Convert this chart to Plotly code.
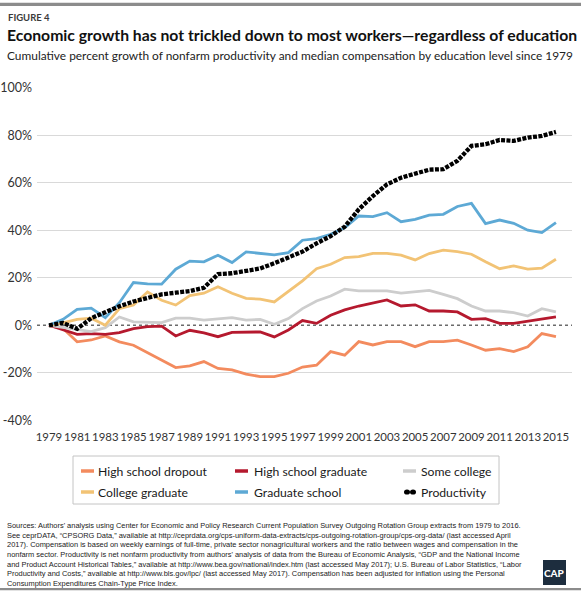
import base64
import plotly.graph_objects as go

# ---------------- data ----------------
years = [1979, 1980, 1981, 1982, 1983, 1984, 1985, 1986, 1987, 1988, 1989,
         1990, 1991, 1992, 1993, 1994, 1995, 1996, 1997, 1998, 1999, 2000,
         2001, 2002, 2003, 2004, 2005, 2006, 2007, 2008, 2009, 2010, 2011,
         2012, 2013, 2014, 2015]

hs_dropout = [0, -1.4, -7.0, -6.2, -4.5, -7.0, -8.4, -11.5, -14.6, -17.8, -17.1,
              -15.3, -18.2, -18.8, -20.6, -21.6, -21.6, -20.2, -17.6, -16.8, -11.1,
              -12.6, -6.9, -8.3, -6.9, -6.9, -9.0, -6.9, -6.9, -6.3, -8.3,
              -10.5, -9.8, -11.1, -9.1, -3.5, -4.8]
hs_graduate = [0, -2.0, -3.8, -3.5, -3.8, -3.1, -1.4, -0.6, -0.4, -4.5, -2.1,
               -3.2, -4.8, -3.0, -3.0, -2.8, -4.9, -2.0, 2.0, 0.8, 4.2,
               6.5, 8.1, 9.3, 10.7, 8.1, 8.6, 6.0, 6.0, 5.6, 2.5,
               2.8, 0.8, 0.8, 1.8, 2.5, 3.5]
some_college = [0, -1.0, -1.7, -2.7, -1.0, 3.5, 1.4, 1.1, 1.1, 3.0, 3.0,
                2.2, 2.8, 3.2, 2.2, 2.5, 0.4, 2.8, 7.0, 10.2, 12.3,
                15.2, 14.5, 14.5, 14.5, 13.5, 14.0, 14.7, 13.0, 11.2, 8.1,
                6.0, 6.0, 5.3, 3.9, 7.0, 5.6]
college_grad = [0, 1.0, 2.5, 3.0, 0.0, 7.0, 8.5, 14.0, 10.5, 8.5, 12.5,
                13.5, 16.2, 13.5, 11.3, 11.0, 9.8, 14.3, 18.7, 23.8, 25.7,
                28.5, 28.9, 30.3, 30.3, 29.5, 27.5, 30.2, 31.6, 31.0, 29.9,
                26.7, 23.8, 25.0, 23.6, 24.0, 27.8]
graduate_school = [0, 2.5, 6.7, 7.2, 3.2, 9.5, 18.0, 17.4, 17.3, 23.6, 27.0,
                   26.7, 29.5, 26.4, 30.9, 30.3, 29.6, 30.6, 35.8, 36.5, 38.3,
                   41.0, 46.0, 45.7, 47.4, 43.6, 44.6, 46.4, 46.7, 50.0, 51.3,
                   42.8, 44.3, 42.9, 40.0, 39.0, 43.2]
productivity = [0, 1.0, -1.5, 3.0, 5.5, 8.0, 10.0, 11.6, 13.0, 13.7, 14.4,
                15.8, 21.5, 21.9, 22.9, 23.9, 26.1, 28.5, 31.0, 34.5, 37.5,
                41.5, 48.8, 54.4, 59.3, 62.1, 63.6, 65.5, 65.7, 69.2, 75.5,
                76.2, 78.0, 77.6, 79.0, 79.7, 81.4]

series_names = ["High school dropout", "High school graduate", "Some college",
                "College graduate", "Graduate school", "Productivity"]
series_values = [hs_dropout, hs_graduate, some_college,
                 college_grad, graduate_school, productivity]
series_colors = ["#F38B5E", "#B5192E", "#CDCDCD", "#F2C375", "#5DA9D5", "#000000"]

y_tick_vals = [-40, -20, 0, 20, 40, 60, 80, 100]
y_tick_text = ["-40%", "-20%", "0%", "20%", "40%", "60%", "80%", "100%"]
x_tick_vals = [1979, 1981, 1983, 1985, 1987, 1989, 1991, 1993, 1995, 1997,
               1999, 2001, 2003, 2005, 2007, 2009, 2011, 2013, 2015]

title = "Economic growth has not trickled down to most workers\u2014regardless of education"
subtitle = "Cumulative percent growth of nonfarm productivity and median compensation by education level since 1979"
source_lines = [
    "Sources: Authors' analysis using Center for Economic and Policy Research Current Population Survey Outgoing Rotation Group extracts from 1979 to 2016.",
    "See ceprDATA, \u201cCPSORG Data,\u201d available at http://ceprdata.org/cps-uniform-data-extracts/cps-outgoing-rotation-group/cps-org-data/ (last accessed April",
    "2017). Compensation is based on weekly earnings of full-time, private sector nonagricultural workers and the ratio between wages and compensation in the",
    "nonfarm sector. Productivity is net nonfarm productivity from authors' analysis of data from the Bureau of Economic Analysis, \u201cGDP and the National Income",
    "and Product Account Historical Tables,\u201d available at http://www.bea.gov/national/index.htm (last accessed May 2017); U.S. Bureau of Labor Statistics, \u201cLabor",
    "Productivity and Costs,\u201d available at http://www.bls.gov/lpc/ (last accessed May 2017). Compensation has been adjusted for inflation using the Personal",
    "Consumption Expenditures Chain-Type Price Index.",
]

# ---------------- layout geometry (pixels) ----------------
W, H = 581, 600
L, R, T, B = 37, 572, 87, 421

def px(x):
    return (x - L) / (R - L)

def py(y):
    return (B - y) / (B - T)

HEAD = "Lato, Liberation Sans, sans-serif"
SANS = "Liberation Sans, Arial, sans-serif"

fig = go.Figure()
for name, vals, col in zip(series_names, series_values, series_colors):
    if name == "Productivity":
        line = dict(color=col, width=4.3, dash="4px,1.4px")
    else:
        line = dict(color=col, width=2.8)
    fig.add_trace(go.Scatter(x=years, y=vals, mode="lines", name=name,
                             line=line, showlegend=False, hoverinfo="skip"))

shapes = []
annotations = []
images = []

# zero line (dashed)
shapes.append(dict(type="line", xref="paper", yref="y", x0=0, x1=1, y0=0, y1=0,
                   line=dict(color="#6b6b6b", width=1.6, dash="3px,3px"), layer="below"))

# top and bottom rules (stretched solid-gray image)
gray_svg = ('<svg xmlns="http://www.w3.org/2000/svg" width="10" height="10">'
            '<rect width="10" height="10" fill="#8c8c8c"/></svg>')
gray_src = "data:image/svg+xml;base64," + base64.b64encode(gray_svg.encode()).decode()
for top_px, h_px in ((2.5, 3.5), (588, 2.5)):
    images.append(dict(source=gray_src, xref="paper", yref="paper",
                       x=px(0), y=py(top_px), sizex=W / (R - L), sizey=h_px / (B - T),
                       xanchor="left", yanchor="top", sizing="stretch", layer="above"))

# header texts
annotations.append(dict(text="FIGURE 4", x=px(6), y=py(17.5), xref="paper", yref="paper",
                        xanchor="left", yanchor="middle", showarrow=False,
                        font=dict(family=HEAD, size=9.5, color="#3a3a3a", weight=700)))
annotations.append(dict(text=title, x=px(5), y=py(34.5), xref="paper", yref="paper",
                        xanchor="left", yanchor="middle", showarrow=False,
                        font=dict(family=HEAD, size=15.75, color="#111111", weight=700)))
annotations.append(dict(text=subtitle, x=px(5), y=py(55.5), xref="paper", yref="paper",
                        xanchor="left", yanchor="middle", showarrow=False,
                        font=dict(family=HEAD, size=11.9, color="#222222")))

# manual legend
shapes.append(dict(type="rect", xref="paper", yref="paper", x0=px(73), x1=px(499),
                   y0=py(456), y1=py(504), line=dict(color="#c4c4c4", width=1),
                   fillcolor="rgba(0,0,0,0)"))
legend_cols = [(81, 96), (235, 252), (403, 419)]
legend_rows = [471, 492]
for i, (name, col) in enumerate(zip(series_names, series_colors)):
    sx, tx = legend_cols[i % 3]
    ry = legend_rows[i // 3]
    if name == "Productivity":
        for cx in (sx + 4, sx + 10):
            shapes.append(dict(type="circle", xref="paper", yref="paper",
                               xsizemode="pixel", ysizemode="pixel",
                               xanchor=px(cx), yanchor=py(ry),
                               x0=-3, x1=3, y0=-2.6, y1=2.6,
                               fillcolor=col, line=dict(width=0)))
    else:
        shapes.append(dict(type="line", xref="paper", yref="paper",
                           x0=px(sx), x1=px(sx + 13), y0=py(ry), y1=py(ry),
                           line=dict(color=col, width=3.5)))
    annotations.append(dict(text=name, x=px(tx), y=py(ry), xref="paper", yref="paper",
                            xanchor="left", yanchor="middle", showarrow=False,
                            font=dict(family=HEAD, size=12.2, color="#1a1a1a")))

# sources
annotations.append(dict(text="<br>".join(source_lines), x=px(5), y=py(519),
                        xref="paper", yref="paper", xanchor="left", yanchor="top",
                        align="left", showarrow=False,
                        font=dict(family=SANS, size=7.45, color="#222222")))

# CAP logo
shapes.append(dict(type="rect", xref="paper", yref="paper", x0=px(543), x1=px(566),
                   y0=py(585), y1=py(560), fillcolor="#1d2d3e", line=dict(width=0)))
annotations.append(dict(text="CAP", x=px(554.5), y=py(573), xref="paper", yref="paper",
                        xanchor="center", yanchor="middle", showarrow=False,
                        font=dict(family=HEAD, size=10, color="#ffffff", weight=900)))

fig.update_layout(
    width=W, height=H,
    margin=dict(l=L, r=W - R, t=T, b=H - B, pad=0, autoexpand=False),
    paper_bgcolor="white", plot_bgcolor="white",
    showlegend=False,
    shapes=shapes, annotations=annotations, images=images,
    xaxis=dict(range=[1978.15, 2016.14], tickvals=x_tick_vals, showgrid=False,
               zeroline=False, showline=False, ticks="", ticklabelstandoff=8,
               tickangle=0, automargin=False,
               tickfont=dict(family=HEAD, size=11.4, color="#333333")),
    yaxis=dict(range=[-40.3, 100.3], tickvals=y_tick_vals, ticktext=y_tick_text,
               showgrid=True, gridcolor="#d9d9d9", gridwidth=1.2,
               zeroline=True, zerolinecolor="rgba(0,0,0,0)",
               showline=False, ticks="", ticklabelstandoff=4, automargin=False,
               tickfont=dict(family=HEAD, size=12.5, color="#333333")),
)

fig.write_html("out.html", include_plotlyjs=True, full_html=True,
               config={"displayModeBar": False},
               post_script="document.body.style.margin='0';document.body.style.overflow='hidden';")
